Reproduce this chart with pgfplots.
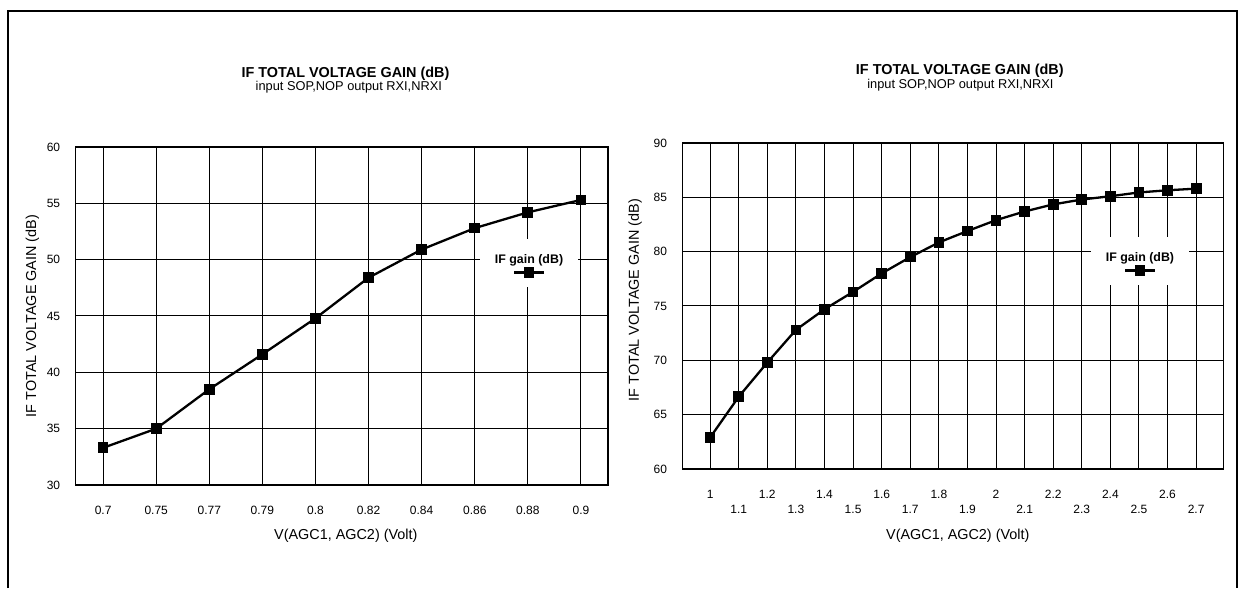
\documentclass[border=0pt]{standalone}
\usepackage{fontspec}
\setmainfont{Liberation Sans}
\usepackage{pgfplots}
\pgfplotsset{compat=1.18}

\newcommand\titlefont{\bfseries\fontsize{7.2}{8}\selectfont}
\newcommand\subfont{\fontsize{6.4}{7}\selectfont}

\pgfplotsset{
  ifstyle/.style={
    scale only axis,
    axis line style={line width=0.8pt},
    grid=major,
    major grid style={black, line width=0.5pt},
    major tick length=0pt,
    tick label style={font=\fontsize{6}{7}\selectfont},
    xticklabel style={anchor=center, inner sep=0pt, yshift=-12.5pt},
    yticklabel style={anchor=east, inner sep=0pt, xshift=-7.5pt},
    label style={font=\fontsize{7.2}{8}\selectfont},
    /pgf/number format/assume math mode=true,
    ylabel={IF TOTAL VOLTAGE GAIN (dB)},
    xlabel={V(AGC1, AGC2) (Volt)},
    legend style={draw=none, fill=white, inner sep=0pt, outer sep=0pt,
      anchor=north west,
      font=\bfseries\fontsize{6.2}{7}\selectfont,
      cells={anchor=center},
      /tikz/every even column/.append style={column sep=0pt},
      /tikz/every odd column/.append style={column sep=0pt},
      nodes={inner sep=0pt, minimum width=49pt, text height=12.22pt, text depth=11.78pt}},
    legend image code/.code={
      \draw[overlay, line width=1.1pt] (17pt,-4.75pt) -- (32pt,-4.75pt);
      \draw[overlay] plot coordinates {(24.5pt,-4.75pt)};
    },
  },
  ifplot/.style={black, line width=1.15pt, mark=square*, mark size=2.1pt, mark options={solid}},
}

\begin{document}
\begin{tikzpicture}
\useasboundingbox (0,0) rectangle (620pt,294pt);
% outer frame (open at the bottom)
\draw[line width=1pt] (4pt,0pt) -- (4pt,288.5pt) -- (618.4pt,288.5pt) -- (618.4pt,0pt);

% ---------- left chart ----------
\node[anchor=base, inner sep=0pt] at (172.75pt,255.1pt) {\titlefont IF TOTAL VOLTAGE GAIN (dB)};
\node[anchor=base, inner sep=0pt] at (174.4pt,248.9pt) {\subfont input SOP,NOP output RXI,NRXI};

\begin{axis}[ifstyle,
  at={(37.75pt,51.5pt)}, anchor=south west,
  width=266.25pt, height=169pt,
  xmin=-0.52, xmax=9.51, ymin=30, ymax=60,
  xtick={0,...,9},
  xticklabels={0.7,0.75,0.77,0.79,0.8,0.82,0.84,0.86,0.88,0.9},
  ytick={30,35,40,45,50,55,60},
  xlabel style={anchor=center, at={(axis description cs:0.5076,-0.1509)}},
  ylabel style={anchor=center, at={(axis description cs:-0.0808,0.5)}},
  legend style={at={(0.7597,0.7278)}},
]
\addplot[ifplot] coordinates {
  (0,33.3) (1,35.0) (2,38.5) (3,41.6) (4,44.8)
  (5,48.4) (6,50.9) (7,52.8) (8,54.2) (9,55.3)
};
\addlegendentry{IF gain (dB)}
\end{axis}

% ---------- right chart ----------
\node[anchor=base, inner sep=0pt] at (479.9pt,256.6pt) {\titlefont IF TOTAL VOLTAGE GAIN (dB)};
\node[anchor=base, inner sep=0pt] at (480.2pt,249.8pt) {\subfont input SOP,NOP output RXI,NRXI};

\begin{axis}[ifstyle,
  at={(341.2pt,59.5pt)}, anchor=south west,
  width=270.45pt, height=163pt,
  xmin=-0.97, xmax=17.95, ymin=60, ymax=90,
  xtick={0,2,...,16},
  xticklabels={1,1.2,1.4,1.6,1.8,2,2.2,2.4,2.6},
  extra x ticks={1,3,...,17},
  extra x tick labels={1.1,1.3,1.5,1.7,1.9,2.1,2.3,2.5,2.7},
  extra x tick style={grid=major, xticklabel style={yshift=-7.65pt}},
  ytick={60,65,70,75,80,85,90},
  xlabel style={anchor=center, at={(axis description cs:0.5091,-0.2055)}},
  ylabel style={anchor=center, at={(axis description cs:-0.0876,0.518)}},
  legend style={at={(0.7554,0.7117)}},
]
\addplot[ifplot] coordinates {
  (0,62.9) (1,66.65) (2,69.8) (3,72.8) (4,74.7) (5,76.3)
  (6,78.0) (7,79.5) (8,80.85) (9,81.9) (10,82.9) (11,83.7)
  (12,84.35) (13,84.8) (14,85.1) (15,85.45) (16,85.65) (17,85.8)
};
\addlegendentry{IF gain (dB)}
\end{axis}
\end{tikzpicture}
\end{document}
